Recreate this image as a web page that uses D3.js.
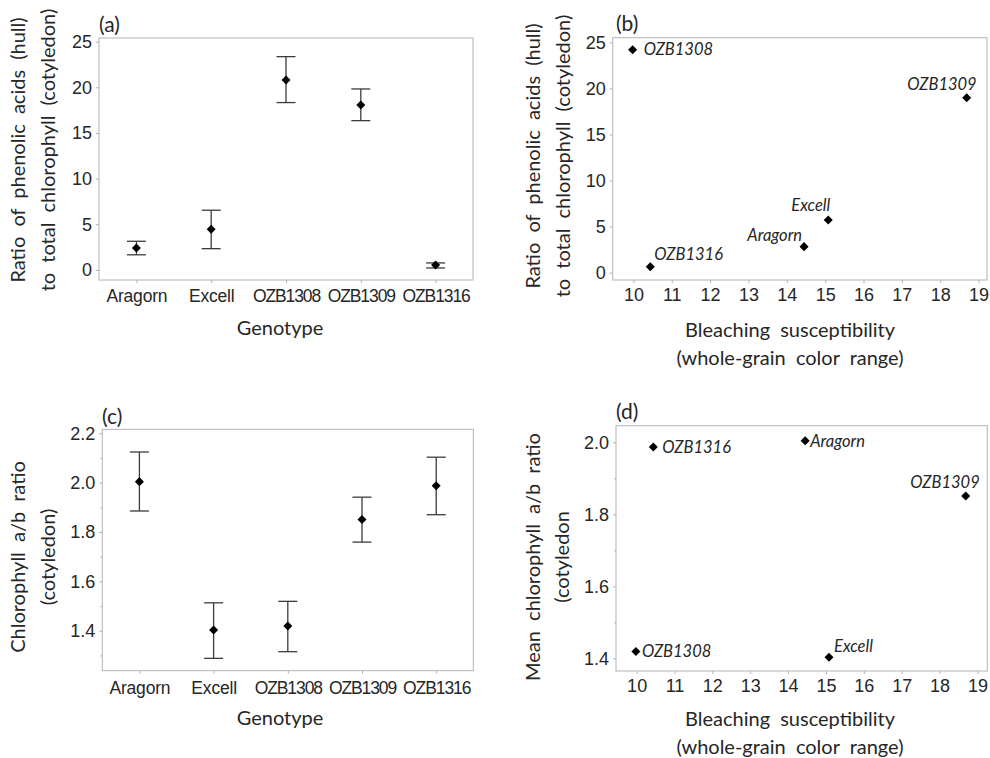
<!DOCTYPE html>
<html>
<head>
<meta charset="utf-8">
<script src="https://cdn.jsdelivr.net/npm/d3@7"></script>
<style>
  body { margin: 0; background: #fff; }
  svg { display: block; font-family: Lato, "Open Sans", sans-serif; }
</style>
</head>
<body>
<svg id="chart" width="990" height="758"></svg>
<script>
// ── Data ───────────────────────────────────────────────────
const genotypes = ['Aragorn', 'Excell', 'OZB1308', 'OZB1309', 'OZB1316'];

// (a) ratio phenolic acids / total chlorophyll, mean ± error
const phenMean = [2.40, 4.46, 20.80, 18.07, 0.55];
const phenLow  = [1.66, 2.33, 18.33, 16.35, 0.22];
const phenHigh = [3.14, 6.54, 23.36, 19.82, 0.77];

// (c) chlorophyll a/b ratio, mean ± error (also used in d)
const chlMean = [2.004, 1.403, 1.419, 1.851, 1.987];
const chlLow  = [1.885, 1.288, 1.315, 1.759, 1.870];
const chlHigh = [2.124, 1.513, 1.519, 1.941, 2.103];

// (b)/(d) bleaching susceptibility per genotype
const bleaching = [14.45, 15.08, 9.98, 18.69, 10.44];
// (b) ratio of phenolic acids to chlorophyll per genotype
const phenRatio = [2.83, 5.73, 24.20, 18.99, 0.65];

const phenTicks = [0, 5, 10, 15, 20, 25];
const chlTicksC = [1.4, 1.6, 1.8, 2.0, 2.2];
const chlMinorC = [1.3, 1.5, 1.7, 1.9, 2.1];
const chlTicksD = [1.4, 1.6, 1.8, 2.0];
const chlMinorD = [1.5, 1.7, 1.9];
const bleachTicks = d3.range(10, 20);

const FRAME = '#b3b3b3';
const TEXT = '#262626';
const BAR = '#3c3c3c';
const TICK_FONT = 18;
const TITLE_FONT = 20;

const svg = d3.select('#chart');
const marker = d3.symbol().type(d3.symbolDiamond2 || d3.symbolDiamond).size(52);

// tighten the wide OZB codes so neighbours don't collide
const catSpacing = d => d.startsWith('OZB') ? -1.1 : -0.2;

// ─── Helpers ────────────────────────────────────────────────

function frame(g, x, y) {
  const [x0, x1] = x.range();
  const [y1, y0] = y.range();
  g.append('rect')
    .attr('x', x0).attr('y', y0)
    .attr('width', x1 - x0).attr('height', y1 - y0)
    .attr('fill', 'none').attr('stroke', FRAME).attr('stroke-width', 1);
}

function styleAxis(sel, fontSize) {
  sel.select('.domain').remove();
  sel.selectAll('line').attr('stroke', FRAME);
  sel.selectAll('text').attr('fill', TEXT).attr('font-size', fontSize);
}

function yAxis(g, x, y, ticks, minor, fmt) {
  const x0 = x.range()[0];
  g.append('g')
    .attr('transform', `translate(${x0},0)`)
    .call(d3.axisLeft(y).tickValues(ticks).tickSize(3).tickPadding(4).tickFormat(fmt))
    .call(s => styleAxis(s, TICK_FONT));
  if (minor) {
    g.append('g')
      .attr('transform', `translate(${x0},0)`)
      .call(d3.axisLeft(y).tickValues(minor).tickSize(2).tickFormat(''))
      .call(s => styleAxis(s, TICK_FONT));
  }
}

function xAxis(g, x, y, axis, pad, fontSize, spacing) {
  const y0 = y.range()[0];
  g.append('g')
    .attr('transform', `translate(0,${y0})`)
    .call(axis.tickSize(3).tickPadding(pad))
    .call(s => styleAxis(s, fontSize))
    .selectAll('text').attr('letter-spacing', spacing || 0);
}

function yTitle(g, lines, xs, cy) {
  lines.forEach((t, i) => {
    g.append('text')
      .attr('transform', `translate(${xs[i]},${cy}) rotate(-90)`)
      .attr('text-anchor', 'middle')
      .attr('dy', '0.35em')
      .attr('font-size', TITLE_FONT)
      .attr('word-spacing', 5)
      .attr('fill', TEXT)
      .text(t);
  });
}

function xTitle(g, lines, cx, ys) {
  lines.forEach((t, i) => {
    g.append('text')
      .attr('x', cx).attr('y', ys[i])
      .attr('text-anchor', 'middle')
      .attr('dy', '0.35em')
      .attr('font-size', TITLE_FONT)
      .attr('word-spacing', 5)
      .attr('fill', TEXT)
      .text(t);
  });
}

function panelLabel(g, t, x, y) {
  g.append('text')
    .attr('x', x).attr('y', y)
    .attr('dy', '0.35em')
    .attr('font-size', 21)
    .attr('fill', TEXT)
    .text(t);
}

function errorBars(g, x, y, mean, low, high) {
  const rows = genotypes.map((k, i) => ({ k, m: mean[i], lo: low[i], hi: high[i] }));
  const cap = 9.5;
  const bars = g.append('g').attr('stroke', BAR).attr('stroke-width', 1.3);
  bars.selectAll('.stem').data(rows).enter().append('line')
    .attr('x1', d => x(d.k)).attr('x2', d => x(d.k))
    .attr('y1', d => y(d.lo)).attr('y2', d => y(d.hi));
  bars.selectAll('.cap-hi').data(rows).enter().append('line')
    .attr('x1', d => x(d.k) - cap).attr('x2', d => x(d.k) + cap)
    .attr('y1', d => y(d.hi)).attr('y2', d => y(d.hi));
  bars.selectAll('.cap-lo').data(rows).enter().append('line')
    .attr('x1', d => x(d.k) - cap).attr('x2', d => x(d.k) + cap)
    .attr('y1', d => y(d.lo)).attr('y2', d => y(d.lo));
  g.selectAll('.pt').data(rows).enter().append('path')
    .attr('d', marker)
    .attr('transform', d => `translate(${x(d.k)},${y(d.m)})`)
    .attr('fill', '#000');
}

function scatter(g, x, y, yVals, place) {
  const rows = genotypes.map((k, i) => ({ k, bx: bleaching[i], v: yVals[i] }));
  g.selectAll('.pt').data(rows).enter().append('path')
    .attr('d', marker)
    .attr('transform', d => `translate(${x(d.bx)},${y(d.v)})`)
    .attr('fill', '#000');
  g.selectAll('.lbl').data(rows).enter().append('text')
    .attr('x', d => x(d.bx) + place[d.k][0])
    .attr('y', d => y(d.v) + place[d.k][1])
    .attr('dy', '0.35em')
    .attr('text-anchor', d => place[d.k][2])
    .attr('font-size', 16.5)
    .attr('font-style', 'italic')
    .attr('fill', TEXT)
    .text(d => d.k);
}

// ── (a) phenolic ratio by genotype ──
{
  const g = svg.append('g');
  const x = d3.scalePoint().domain(genotypes).range([99, 473]).padding(0.5);
  const y = d3.scaleLinear().domain([-1.1, 25.4]).range([280, 38]);
  frame(g, x, y);
  yAxis(g, x, y, phenTicks, null, d3.format('d'));
  xAxis(g, x, y, d3.axisBottom(x), 7, 17.5, catSpacing);
  errorBars(g, x, y, phenMean, phenLow, phenHigh);
  yTitle(g, ['Ratio of phenolic acids (hull)', 'to total chlorophyll (cotyledon)'], [18, 48], 150);
  xTitle(g, ['Genotype'], 280, [328]);
  panelLabel(g, '(a)', 99, 25);
}

// ── (b) phenolic ratio vs bleaching ──
{
  const g = svg.append('g');
  const x = d3.scaleLinear().domain([9.46, 19.22]).range([612.7, 987]);
  const y = d3.scaleLinear().domain([-0.79, 25.5]).range([280, 37.7]);
  frame(g, x, y);
  yAxis(g, x, y, phenTicks, null, d3.format('d'));
  xAxis(g, x, y, d3.axisBottom(x).tickValues(bleachTicks).tickFormat(d3.format('d')), 5, TICK_FONT);
  scatter(g, x, y, phenRatio, {
    Aragorn: [-2, -11, 'end'],
    Excell: [2, -15, 'end'],
    OZB1308: [11, 0, 'start'],
    OZB1309: [10, -13, 'end'],
    OZB1316: [4, -13, 'start']
  });
  yTitle(g, ['Ratio of phenolic acids (hull)', 'to total chlorophyll (cotyledon)'], [533, 563], 156);
  xTitle(g, ['Bleaching susceptibility', '(whole-grain color range)'], 790, [330, 358]);
  panelLabel(g, '(b)', 616, 24);
}

// ── (c) chlorophyll a/b by genotype ──
{
  const g = svg.append('g');
  const x = d3.scalePoint().domain(genotypes).range([102.3, 473.3]).padding(0.5);
  const y = d3.scaleLinear().domain([1.238, 2.216]).range([670.7, 429.3]);
  frame(g, x, y);
  yAxis(g, x, y, chlTicksC, chlMinorC, d3.format('.1f'));
  xAxis(g, x, y, d3.axisBottom(x), 8, 17.5, catSpacing);
  errorBars(g, x, y, chlMean, chlLow, chlHigh);
  yTitle(g, ['Chlorophyll a/b ratio', '(cotyledon)'], [18, 48], 557);
  xTitle(g, ['Genotype'], 280, [718]);
  panelLabel(g, '(c)', 102, 417);
}

// ── (d) chlorophyll a/b vs bleaching ──
{
  const g = svg.append('g');
  const x = d3.scaleLinear().domain([9.455, 19.26]).range([616, 987.3]);
  const y = d3.scaleLinear().domain([1.365, 2.046]).range([671, 425.7]);
  frame(g, x, y);
  yAxis(g, x, y, chlTicksD, chlMinorD, d3.format('.1f'));
  xAxis(g, x, y, d3.axisBottom(x).tickValues(bleachTicks).tickFormat(d3.format('d')), 5, TICK_FONT);
  scatter(g, x, y, chlMean, {
    Aragorn: [5, 0, 'start'],
    Excell: [5, -11, 'start'],
    OZB1308: [6, 0, 'start'],
    OZB1309: [14, -14, 'end'],
    OZB1316: [9, 0, 'start']
  });
  yTitle(g, ['Mean chlorophyll a/b ratio', '(cotyledon'], [533, 562], 557);
  xTitle(g, ['Bleaching susceptibility', '(whole-grain color range)'], 790, [719, 747]);
  panelLabel(g, '(d)', 616, 412);
}
</script>
</body>
</html>
